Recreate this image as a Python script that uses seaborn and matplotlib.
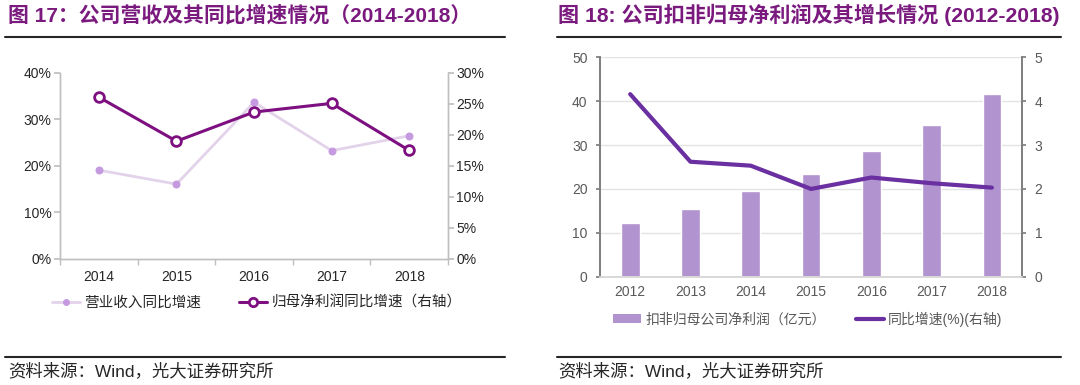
import numpy as np
import pandas as pd
import matplotlib
matplotlib.use('Agg')
import matplotlib.pyplot as plt
from matplotlib.lines import Line2D
from matplotlib.patches import Patch
from matplotlib.ticker import FuncFormatter
import seaborn as sns

# Data
years_left = ['2014', '2015', '2016', '2017', '2018']
revenue_growth = [19.1, 16.1, 33.7, 23.3, 26.5]      # % (left axis)
profit_growth = [26.1, 19.0, 23.7, 25.1, 17.5]       # % (right axis)

years_right = ['2012', '2013', '2014', '2015', '2016', '2017', '2018']
net_profit = [12.3, 15.4, 19.6, 23.4, 28.6, 34.6, 41.6]   # 亿元 (left axis)
yoy_growth = [4.16, 2.62, 2.53, 2.00, 2.26, 2.13, 2.03]   # right axis

title_left = '图 17：公司营收及其同比增速情况（2014-2018）'
title_right = '图 18: 公司扣非归母净利润及其增长情况 (2012-2018)'
source_text = '资料来源：Wind，光大证券研究所'

sns.set_theme(style='white')
plt.rcParams['font.family'] = ['Liberation Sans', 'Noto Sans CJK SC', 'DejaVu Sans']
plt.rcParams['axes.unicode_minus'] = False

fig = plt.figure(figsize=(10.8, 3.85), dpi=100)

title_color = '#7a1a7e'
light_line = '#e3d3ea'
light_marker = '#c59ae0'
dark_line = '#7d0f80'
bar_color = '#b093cf'
line_color = '#6a2fa0'

# ---------------- left chart ----------------
df_l = pd.DataFrame({'x': np.arange(len(years_left)),
                     'rev': revenue_growth, 'prof': profit_growth})
axl = fig.add_axes([0.0556, 0.3273, 0.3593, 0.4831])
axr = axl.twinx()

sns.lineplot(data=df_l, x='x', y='rev', ax=axl, color=light_line, lw=2,
             marker='o', markersize=5, markerfacecolor=light_marker,
             markeredgecolor=light_marker, zorder=2)
sns.lineplot(data=df_l, x='x', y='prof', ax=axr, color=dark_line, lw=2.2,
             marker='o', markersize=7, markerfacecolor='white',
             markeredgecolor=dark_line, markeredgewidth=2, zorder=3)

axl.set_xlim(-0.5, len(years_left) - 0.5)
axl.set_ylim(0, 40)
axr.set_ylim(0, 30)
axl.set_yticks([0, 10, 20, 30, 40])
axr.set_yticks([0, 5, 10, 15, 20, 25, 30])
axl.yaxis.set_major_formatter(FuncFormatter(lambda v, p: f'{v:.0f}%'))
axr.yaxis.set_major_formatter(FuncFormatter(lambda v, p: f'{v:.0f}%'))
axl.set_xticks(np.arange(len(years_left)))
axl.set_xticklabels(years_left)
axl.set_xticks(np.arange(-0.5, len(years_left)), minor=True)
axl.set_xlabel('')
axl.set_ylabel('')
axr.set_ylabel('')
for ax in (axl, axr):
    for s in ax.spines.values():
        s.set_color('#bfbfbf')
        s.set_linewidth(1)
    ax.spines['top'].set_visible(False)
axl.tick_params(axis='y', which='major', direction='out', length=4, color='#bfbfbf',
                labelsize=10, labelcolor='#262626', pad=2, left=True)
axr.tick_params(axis='y', which='major', direction='out', length=4, color='#bfbfbf',
                labelsize=10, labelcolor='#262626', pad=2, right=True)
axl.tick_params(axis='x', which='major', length=0, labelsize=10, labelcolor='#262626', pad=8)
axl.tick_params(axis='x', which='minor', direction='out', length=4, color='#bfbfbf', bottom=True)

# ---------------- right chart ----------------
df_r = pd.DataFrame({'x': np.arange(len(years_right)),
                     'profit': net_profit, 'yoy': yoy_growth})
bx = fig.add_axes([0.5556, 0.2813, 0.3907, 0.5699])
bx2 = bx.twinx()

sns.barplot(data=df_r, x='x', y='profit', ax=bx, color=bar_color, width=0.31,
            saturation=1, zorder=2)
sns.lineplot(data=df_r, x='x', y='yoy', ax=bx2, color=line_color, lw=3, zorder=3)

bx.set_xlim(-0.5, len(years_right) - 0.5)
bx.set_ylim(0, 50)
bx2.set_ylim(0, 5)
bx.set_yticks([0, 10, 20, 30, 40, 50])
bx2.set_yticks([0, 1, 2, 3, 4, 5])
bx.set_xticks(np.arange(len(years_right)))
bx.set_xticklabels(years_right)
bx.set_xlabel('')
bx.set_ylabel('')
bx2.set_ylabel('')
bx.yaxis.grid(True, color='#e3e3e3', lw=1)
bx.set_axisbelow(True)
for ax in (bx, bx2):
    ax.spines['top'].set_visible(False)
    ax.spines['left'].set_color('#7f7f7f')
    ax.spines['right'].set_color('#7f7f7f')
    ax.spines['bottom'].set_color('#d9d9d9')
bx.tick_params(axis='y', direction='out', length=3, color='#7f7f7f', labelsize=10,
               labelcolor='#595959', pad=6, left=True)
bx2.tick_params(axis='y', direction='out', length=3, color='#7f7f7f', labelsize=10,
                labelcolor='#595959', pad=6, right=True)
bx.tick_params(axis='x', length=0, labelsize=10, labelcolor='#595959', pad=6)

# ---------------- legends ----------------
h1 = Line2D([], [], color=light_line, lw=2, marker='o', markersize=4,
            markerfacecolor=light_marker, markeredgecolor=light_marker)
h2 = Line2D([], [], color=dark_line, lw=2.2, marker='o', markersize=6,
            markerfacecolor='white', markeredgecolor=dark_line, markeredgewidth=2)
fig.legend([h1, h2], ['营业收入同比增速', '归母净利润同比增速（右轴）'],
           loc='center', bbox_to_anchor=(0.238, 1 - 303 / 385), ncol=2, frameon=False,
           fontsize=10.5, handlelength=1.9, handletextpad=0.3, columnspacing=2.6,
           labelcolor='#262626')

h3 = Patch(facecolor=bar_color, edgecolor='none')
h4 = Line2D([], [], color=line_color, lw=3)
fig.legend([h3, h4], ['扣非归母公司净利润（亿元）', '同比增速(%)(右轴)'],
           loc='center', bbox_to_anchor=(0.748, 1 - 319 / 385), ncol=2, frameon=False,
           fontsize=10, handlelength=2.0, handleheight=0.6, handletextpad=0.3,
           columnspacing=2.2, labelcolor='#595959')

# ---------------- titles, rules, source ----------------
fig.text(8 / 1080, 1 - 15 / 385, title_left, fontsize=15, fontweight='bold',
         color=title_color, va='center', ha='left')
fig.text(558 / 1080, 1 - 15 / 385, title_right, fontsize=15.2, fontweight='bold',
         color=title_color, va='center', ha='left')

for x0, x1 in ((5, 505), (557, 1061)):
    fig.add_artist(Line2D([x0 / 1080, x1 / 1080], [1 - 37 / 385] * 2,
                          color='#262626', lw=1.5, transform=fig.transFigure))
    fig.add_artist(Line2D([x0 / 1080, x1 / 1080], [1 - 357 / 385] * 2,
                          color='#262626', lw=1.5, transform=fig.transFigure))

fig.text(8 / 1080, 1 - 371 / 385, source_text, fontsize=12.5, color='#262626',
         va='center', ha='left')
fig.text(558 / 1080, 1 - 371 / 385, source_text, fontsize=12.5, color='#262626',
         va='center', ha='left')

fig.savefig('out.png', dpi=100)
